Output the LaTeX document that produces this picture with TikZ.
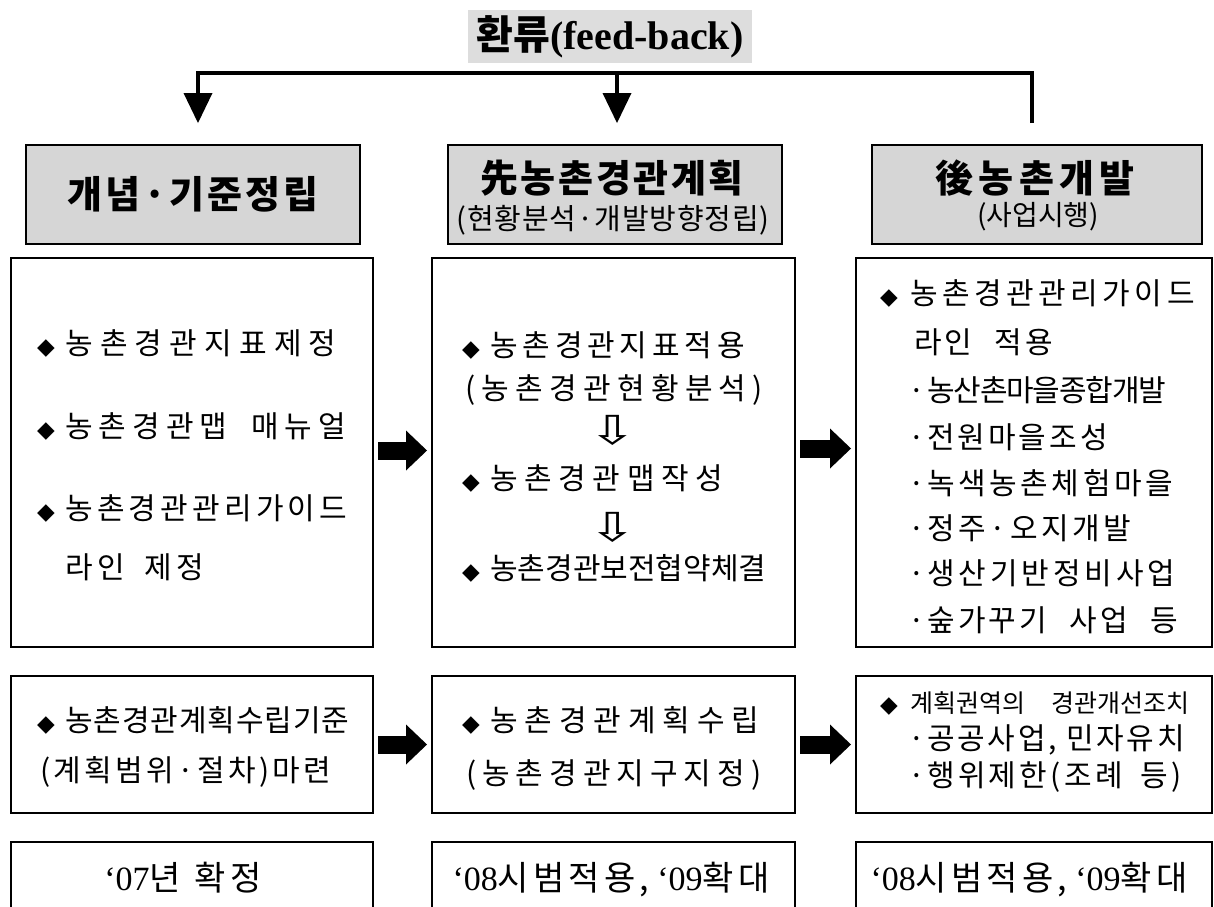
\documentclass[tikz,border=0pt]{standalone}
\usepackage{fontspec}
\setmainfont{Liberation Serif}
\newfontfamily\kr{Noto Sans CJK KR}
\newfontfamily\djv{DejaVu Sans}
\usetikzlibrary{arrows.meta}
\newcommand\fs[1]{\fontsize{#1pt}{#1pt}\selectfont}
\newcommand\LS[1]{\addfontfeature{LetterSpace=#1}}
\newcommand\bl{\makebox[28pt][l]{\djv\fs{23}◆}}
\newcommand\dt{\makebox[20pt][c]{\kr\fs{30}·}}
\begin{document}
\begin{tikzpicture}[x=1pt,y=-1pt,
  hdr/.style={draw, line width=2.5pt, fill=gray!32, inner sep=0, minimum height=99pt},
  cbox/.style={draw, line width=2pt, inner sep=0},
  tl/.style={anchor=west, inner sep=0},
  tc/.style={anchor=center, inner sep=0},
  body/.style={font=\kr\fs{30}},
  fatarrow/.style={line width=18pt, -{Triangle[length=21pt,width=40pt,line width=0pt]}, shorten <=4pt, shorten >=4pt},
  fb/.style={line width=4pt},
  fbtip/.style={-{Triangle[length=30pt,width=29pt,line width=0pt]}}
]
\useasboundingbox (0,0) rectangle (1214,906);
\clip (0,0) rectangle (1214,906);

% title
\node[tc, fill=gray!27, minimum width=284pt, minimum height=53pt] (title) at (610,36.5)
  {{\kr\bfseries\fs{40}환류}{\bfseries\fs{40}(feed-back)}};

% header boxes
\node[hdr, minimum width=334pt] (h1) at (193,194.5) {\kr\bfseries\fs{38}\LS{8}개념·기준정립};
\node[hdr, minimum width=334pt] (h2) at (615,194.5) {};
\node[hdr, minimum width=330pt] (h3) at (1037,194.5) {};
\node[tc] (h2a) at (612,178) {\kr\bfseries\fs{38}\LS{7}先농촌경관계획};
\node[tc] (h2b) at (613,220) {\kr\fs{29}\LS{3}(현황분석·개발방향정립)};
\node[tc] (h3a) at (1035,178) {\kr\bfseries\fs{38}\LS{14}後농촌개발};
\node[tc] (h3b) at (1038,217) {\kr\fs{28}(사업시행)};

% feedback connector
\coordinate (fbR) at (1032,123);
\coordinate (fbL) at (198,123);
\coordinate (fbM) at (617,123);
\coordinate (fbT) at (617,73);
\draw[fb, fbtip] (fbR) |- (fbT) -| (fbL);
\draw[fb, fbtip] (fbT) -- (fbM);

% content boxes
\node[cbox, minimum width=362pt, minimum height=389pt] (c1) at (192,452.5) {};
\node[cbox, minimum width=363pt, minimum height=389pt] (c2) at (613.5,452.5) {};
\node[cbox, minimum width=356pt, minimum height=389pt] (c3) at (1034,452.5) {};

% row 2 boxes
\node[cbox, minimum width=362pt, minimum height=137pt] (r1) at (192,744.5) {};
\node[cbox, minimum width=363pt, minimum height=137pt] (r2) at (613.5,744.5) {};
\node[cbox, minimum width=356pt, minimum height=137pt] (r3) at (1034,744.5) {};

% row 3 boxes (cut by the page edge)
\node[cbox, minimum width=362pt, minimum height=120pt] (s1) at (192,902) {};
\node[cbox, minimum width=363pt, minimum height=120pt] (s2) at (613.5,902) {};
\node[cbox, minimum width=356pt, minimum height=120pt] (s3) at (1034,902) {};

% big arrows
\draw[fatarrow] ([yshift=2pt]c1.east) -- ([yshift=2pt]c2.west);
\draw[fatarrow] ([yshift=4pt]c2.east) -- ([yshift=4pt]c3.west);
\draw[fatarrow] (r1.east) -- (r2.west);
\draw[fatarrow] (r2.east) -- (r3.west);

% box 1 text
\node[tl, body] (c1a) at (37,343) {\bl\LS{24}농촌경관지표제정};
\node[tl, body] (c1b) at (37,426) {\bl\LS{20}농촌경관맵\hspace{24pt}매뉴얼};
\node[tl, body] (c1c) at (37,508) {\bl\LS{14}농촌경관관리가이드};
\node[tl, body] (c1d) at (65,567) {\LS{14}라인\hspace{20pt}제정};

% box 2 text
\node[tl, body] (c2a) at (462,345) {\bl\LS{16}농촌경관지표적용};
\node[tl, body] (c2b) at (465,390) {\LS{21}(농촌경관현황분석)};
\node[tc] (d1) at (613,430) {\scalebox{1.45}[1]{\djv\fs{40}⇩}};
\node[tl, body] (c2c) at (462,478) {\bl\LS{22}농촌경관맵작성};
\node[tc] (d2) at (613,527) {\scalebox{1.45}[1]{\djv\fs{40}⇩}};
\node[tl, body] (c2d) at (462,568) {\bl\LS{0}농촌경관보전협약체결};

% box 3 text
\node[tl, body] (c3a) at (880,293) {\makebox[30pt][l]{\djv\fs{23}◆}\LS{15}농촌경관관리가이드};
\node[tl, body] (c3b) at (914,342) {\LS{10}라인\hspace{22pt}적용};
\node[tl, body] (c3c) at (907,390) {\dt\LS{-4}농산촌마을종합개발};
\node[tl, body] (c3d) at (907,437) {\dt\LS{10}전원마을조성};
\node[tl, body] (c3e) at (907,483) {\dt\LS{12}녹색농촌체험마을};
\node[tl, body] (c3f) at (907,528) {\dt\LS{12}정주·오지개발};
\node[tl, body] (c3g) at (907,573) {\dt\LS{13}생산기반정비사업};
\node[tl, body] (c3h) at (907,620) {\dt\LS{11}숲가꾸기\hspace{22pt}사업\hspace{22pt}등};

% row 2 text
\node[tl, body] (r1a) at (37,720) {\bl\LS{3}농촌경관계획수립기준};
\node[tl, body] (r1b) at (40,772) {\LS{11}(계획범위·절차)마련};
\node[tl, body] (r2a) at (462,720) {\bl\LS{23}농촌경관계획수립};
\node[tl, body] (r2b) at (466,775) {\LS{20}(농촌경관지구지정)};
\node[tl] (r3a) at (880,703) {\makebox[30pt][l]{\djv\fs{23}◆}\kr\fs{25}계획권역의\hspace{26pt}경관개선조치};
\node[tl, body] (r3b) at (907,740) {\dt\LS{9}공공사업, 민자유치};
\node[tl, body] (r3c) at (907,777) {\dt\LS{11}행위제한(조례\hspace{18pt}등)};

% row 3 text
\node[tc] (s1t) at (183,878) {\fs{34}‘07{\kr\LS{12} 년\hspace{14pt}확정}};
\node[tc] (s2t) at (611,880) {\fs{34}‘08{\kr\LS{12}시범적용,} ‘09{\kr\LS{12}확대}};
\node[tc] (s3t) at (1029,880) {\fs{34}‘08{\kr\LS{12}시범적용,} ‘09{\kr\LS{12}확대}};
\end{tikzpicture}
\end{document}
